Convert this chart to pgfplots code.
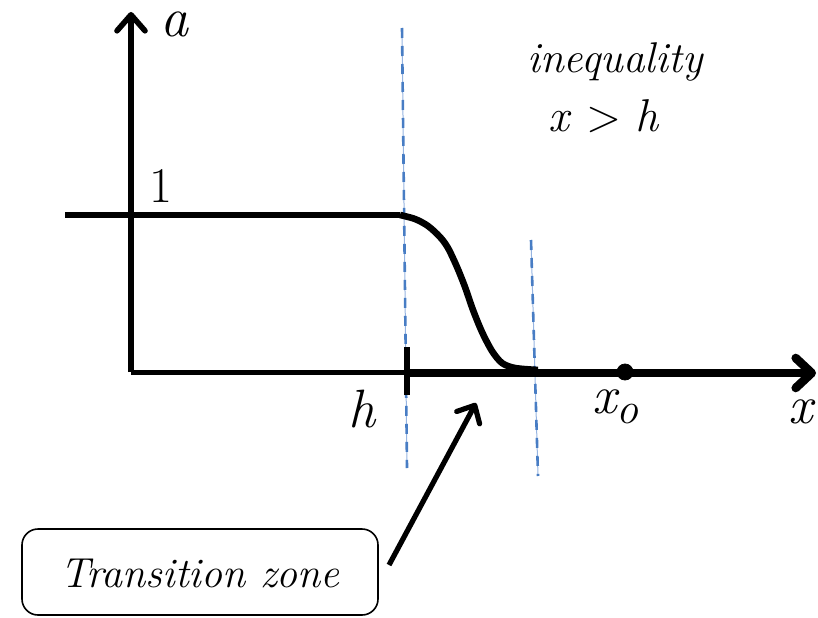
\documentclass[border=0pt]{standalone}
\usepackage{pgfplots}
\pgfplotsset{compat=1.18}
\usetikzlibrary{arrows.meta}
\definecolor{dashblue}{RGB}{72,125,196}
\definecolor{lightblue}{RGB}{150,180,225}
\begin{document}
\begin{tikzpicture}
\useasboundingbox (0,0) rectangle (409pt,308.5pt);
\clip (0,0) rectangle (409pt,308.5pt);
\begin{axis}[at={(0,0)},anchor=south west,scale only axis,
  width=409pt,height=308.5pt,xmin=0,xmax=818,ymin=0,ymax=617,
  axis lines=none,clip=false]
% dashed blue guide lines
\addplot[lightblue,line width=0.5pt] coordinates {(402,589) (407,149)};
\addplot[dashblue,line width=1.3pt,dash pattern=on 5pt off 4pt] coordinates {(402,589) (407,149)};
\addplot[lightblue,line width=0.5pt] coordinates {(531,377) (538,141)};
\addplot[dashblue,line width=1.3pt,dash pattern=on 5pt off 4pt] coordinates {(531,377) (538,141)};
% y axis
\addplot[black,line width=2.8pt,-{Straight Barb[round,length=8pt,width=14pt]}] coordinates {(131,245) (131,605)};
% level 1 line
\addplot[black,line width=3pt] coordinates {(65,402) (400,402)};
% transition curve
\addplot[black,line width=3.3pt,smooth,tension=0.5] coordinates {(400,402) (415,398) (428,391) (440,380) (448,369) (457,350) (465,330) (473,307) (482,285) (492,266) (502,254) (515,249) (538,247)};
% x axis thin part
\addplot[black,line width=2.5pt] coordinates {(131,245) (408,245)};
% x axis thick part
\addplot[black,line width=4.3pt,-{Straight Barb[round,length=8pt,width=15pt]}] coordinates {(406,244) (816,244)};
% tick at h
\addplot[black,line width=3pt] coordinates {(407,222) (407,270)};
% x_o dot
\addplot[black,only marks,mark=*,mark size=4pt] coordinates {(625,245)};
% annotation arrow
\addplot[black,line width=2.6pt,-{Straight Barb[round,length=7pt,width=13pt]}] coordinates {(389,52) (476,214)};
% labels
\node[anchor=base,inner sep=0pt,font=\fontsize{28}{30}\selectfont\itshape] at (axis cs:174,580) {a};
\node[anchor=base,font=\fontsize{25}{30}\selectfont] at (axis cs:161,415) {1};
\node[anchor=base,font=\fontsize{27}{30}\selectfont\itshape] at (axis cs:362,190) {h};
\node[anchor=base west,inner sep=0pt,font=\fontsize{27}{30}\selectfont\itshape] at (axis cs:592,204) {x\raisebox{-5pt}{\fontsize{22}{24}\selectfont o}};
\node[anchor=base,font=\fontsize{27}{30}\selectfont\itshape] at (axis cs:801,194) {x};
\node[anchor=base,font=\fontsize{21.5}{24}\selectfont\itshape] at (axis cs:615,544) {inequality};
\node[anchor=base,font=\fontsize{23}{26}\selectfont] at (axis cs:604,485) {\textit{x} > \textit{h}};
\node[draw=black,line width=0.8pt,rounded corners=8pt,minimum width=178pt,minimum height=43pt,inner sep=0pt] at (axis cs:200,45) {};
\node[anchor=base,font=\fontsize{21}{24}\selectfont\itshape] at (axis cs:200,30) {Transition zone};
\end{axis}
\end{tikzpicture}
\end{document}
